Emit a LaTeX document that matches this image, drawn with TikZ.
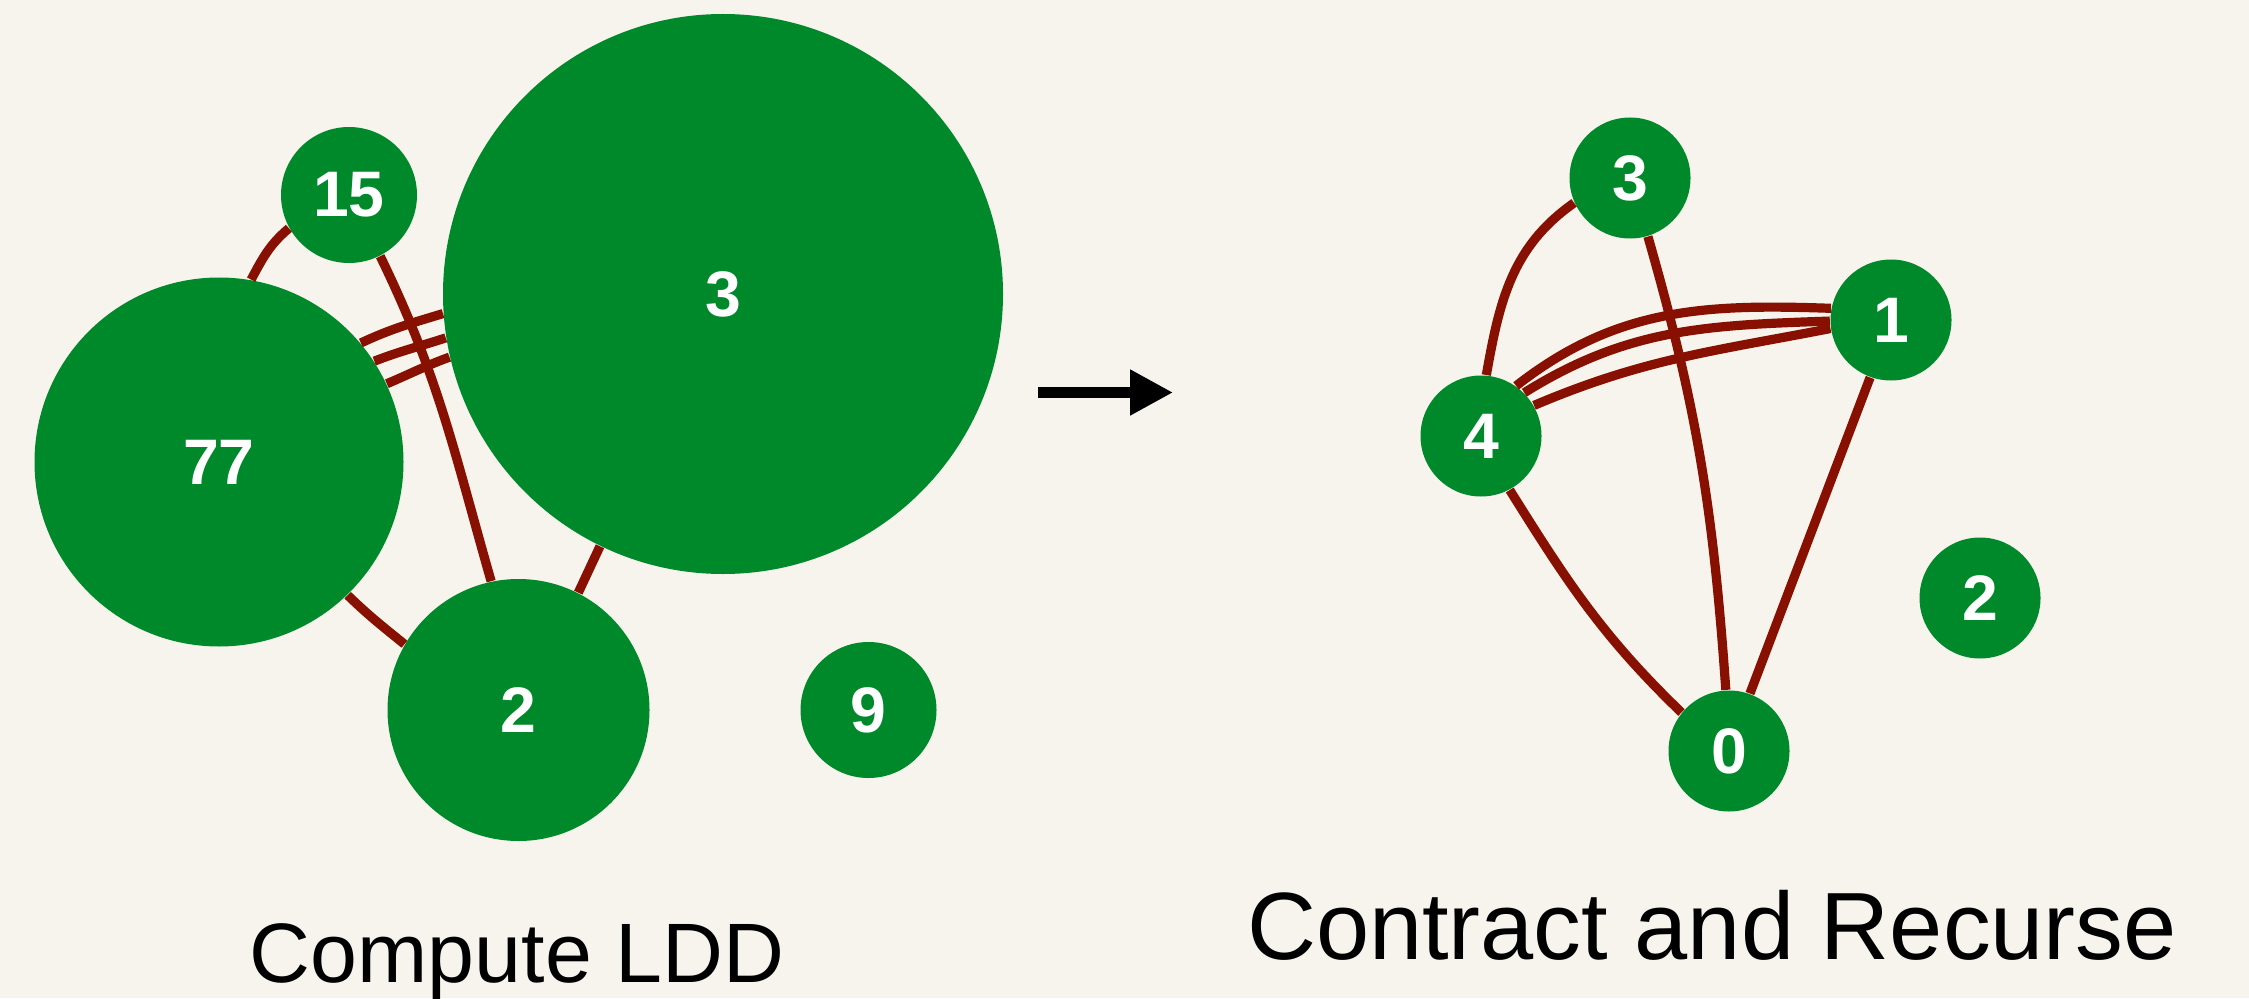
\documentclass[tikz,border=0pt]{standalone}
\usepackage{fontspec}
\setmainfont{Liberation Sans}
\usepackage{tikz}
\usetikzlibrary{arrows.meta}

\definecolor{ldgreen}{RGB}{0,137,43}
\definecolor{ldred}{RGB}{135,16,0}
\definecolor{ldpaper}{RGB}{247,244,237}

\begin{document}
\begin{tikzpicture}[
    vert/.style={circle, fill=ldgreen, text=white, inner sep=0pt,
        font=\fontsize{18.3}{18.3}\selectfont\bfseries},
    link/.style={draw=ldred, line width=0.92mm},
    arr/.style={-{Triangle[length=4.3mm, width=4.33mm]}, line width=1.03mm},
    caption/.style={anchor=base}
]
\fill[ldpaper] (0,0) rectangle (22.49,9.98);
\useasboundingbox (0,0) rectangle (22.49,9.98);

% Left panel: low diameter decomposition
\node[vert, minimum size=3.69cm] (l77) at (2.19,5.36) {77};
\node[vert, minimum size=1.36cm] (l15) at (3.49,8.03) {15};
\node[vert, minimum size=5.60cm] (l3) at (7.23,7.04) {3};
\node[vert, minimum size=2.62cm] (l2) at (5.185,2.88) {2};
\node[vert, minimum size=1.36cm] (l9) at (8.685,2.88) {9};

\draw[link] (l77.80) to[out=62, in=220] (l15.209);
\draw[link] (l15.-63) to[out=-64, in=106] (l2.102);
\draw[link] (l77.40) to[out=25, in=197] (l3.184);
\draw[link] (l77.33) to[out=21, in=198] (l3.189);
\draw[link] (l77.25) to[out=23, in=200] (l3.193);
\draw[link] (l77.-46) to[out=-44, in=141] (l2.150);
\draw[link] (l3.244) -- (l2.63);

% Arrow
\coordinate (from) at (10.38,6.055);
\coordinate (to) at (11.73,6.055);
\draw[arr] (from) -- (to);

% Right panel: contracted graph
\begin{scope}[every node/.append style={minimum size=1.21cm}]
\node[vert] (r3) at (16.30,8.20) {3};
\node[vert] (r1) at (18.91,6.78) {1};
\node[vert] (r4) at (14.81,5.62) {4};
\node[vert] (r2) at (19.80,4.00) {2};
\node[vert] (r0) at (17.29,2.47) {0};
\end{scope}

\draw[link] (r4.85) to[out=80, in=215] (r3.204);
\draw[link] (r3.-73) to[out=-74, in=94] (r0.93);
\draw[link] (r4.55) to[out=38, in=178] (r1.169);
\draw[link] (r4.45) to[out=32, in=182] (r1.181);
\draw[link] (r4.30) to[out=23, in=191] (r1.188);
\draw[link] (r4.-62) to[out=-58, in=136] (r0.141);
\draw[link] (r1.250) -- (r0.70);

% Captions
\node[caption, font=\fontsize{24}{29}\selectfont] (cap1) at (5.17,0.153) {Compute LDD};
\node[caption, font=\fontsize{27.2}{32}\selectfont] (cap2) at (17.12,0.387) {Contract and Recurse};
\end{tikzpicture}
\end{document}
